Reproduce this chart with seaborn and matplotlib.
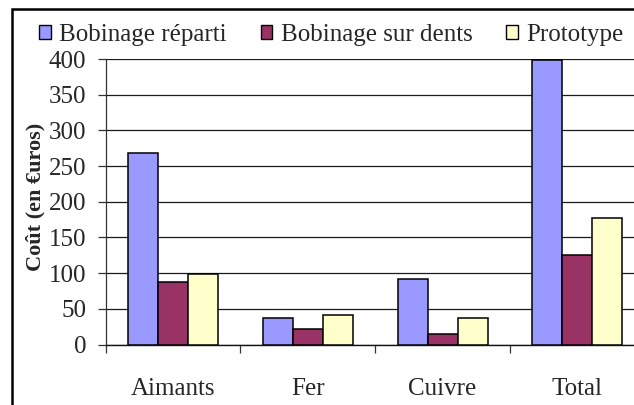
import matplotlib
matplotlib.use("Agg")
import matplotlib.pyplot as plt
from matplotlib.patches import Patch, Rectangle
import seaborn as sns
import pandas as pd

# Cost breakdown per component (euros)
categories = ["Aimants", "Fer", "Cuivre", "Total"]
series_names = ["Bobinage réparti", "Bobinage sur dents", "Prototype"]
reparti = [269, 37, 92, 398]
sur_dents = [88, 22, 15, 125]
prototype = [99, 41, 37, 177]
y_ticks = [0, 50, 100, 150, 200, 250, 300, 350, 400]
colors = ["#9999FF", "#993366", "#FFFFCC"]

rows = []
for name, vals in zip(series_names, [reparti, sur_dents, prototype]):
    for cat, v in zip(categories, vals):
        rows.append({"cat": cat, "serie": name, "cout": v})
df = pd.DataFrame(rows)

sns.set_style("white")
plt.rcParams["font.family"] = ["Liberation Serif", "DejaVu Serif"]
FS = 18

fig = plt.figure(figsize=(6.34, 4.05), dpi=100)
W, H = 634, 405
ax = fig.add_axes([105.6 / W, 1 - 344.5 / H, (644.8 - 105.6) / W, (344.5 - 59) / H])

sns.barplot(data=df, x="cat", y="cout", hue="serie", order=categories,
            hue_order=series_names, palette=colors, width=2 / 3, gap=0,
            edgecolor="black", linewidth=1.1, saturation=1, ax=ax, legend=False,
            errorbar=None, zorder=3)

ax.set_xlim(-0.5, 3.5)
ax.set_ylim(0, 400)
ax.set_yticks(y_ticks)
ax.set_yticklabels([str(t) for t in y_ticks], fontsize=FS)
ax.yaxis.grid(True, color="#1a1a1a", linewidth=0.9, zorder=0)
ax.set_axisbelow(True)

# category boundaries carry the tick marks, labels sit at centres
ax.set_xticks([-0.5, 0.5, 1.5, 2.5, 3.5])
ax.set_xticklabels([])
ax.set_xticks(range(len(categories)), minor=True)
ax.set_xticklabels(categories, minor=True, fontsize=FS)
ax.tick_params(axis="x", which="major", direction="out", length=6, width=0.9,
               color="#333333", bottom=True)
ax.tick_params(axis="x", which="minor", length=0, pad=24)
ax.tick_params(axis="y", direction="out", length=6, width=0.9, color="#333333",
               pad=8, left=True)

ax.set_xlabel("")
ax.set_ylabel("Coût (en €uros)", fontsize=16, fontweight="bold")
ax.yaxis.set_label_coords(-0.112, 0.518)

for side in ["top", "right"]:
    ax.spines[side].set_visible(False)
ax.spines["left"].set_color("#333333")
ax.spines["left"].set_linewidth(0.9)
ax.spines["bottom"].set_color("#111111")
ax.spines["bottom"].set_linewidth(1.0)

handles = [Patch(facecolor=c, edgecolor="black", linewidth=1.0, label=n)
           for c, n in zip(colors, series_names)]
fig.legend(handles=handles, loc="center left", bbox_to_anchor=(39 / W, 1 - 35 / H),
           ncol=3, frameon=False, fontsize=FS, borderpad=0, borderaxespad=0,
           handlelength=0.47, handleheight=0.47, handletextpad=0.34,
           columnspacing=1.35)

# chart border
fig.patches.append(Rectangle((12 / W, -0.1), 1.2, 1 - 9 / H + 0.1,
                             transform=fig.transFigure, fill=False,
                             edgecolor="black", linewidth=1.8, zorder=0))

fig.savefig("out.png", dpi=100)
